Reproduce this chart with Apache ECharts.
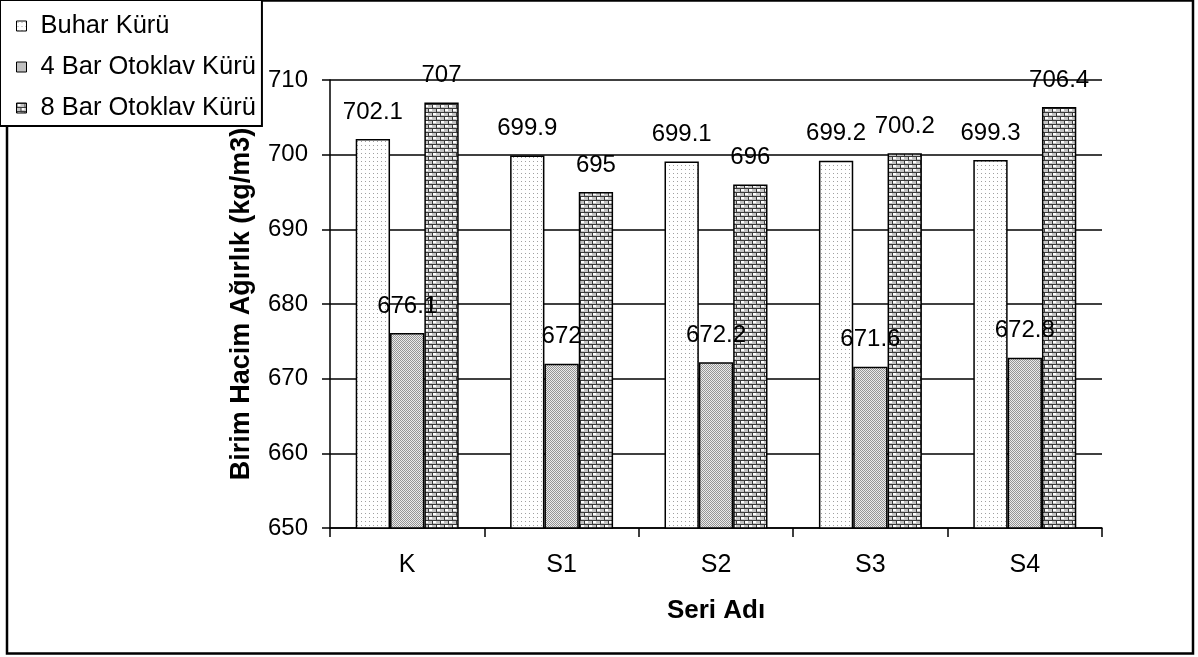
<!DOCTYPE html>
<html>
<head>
<meta charset="utf-8">
<script src="https://cdn.jsdelivr.net/npm/echarts@6/dist/echarts.min.js"></script>
<style>
  html, body { margin: 0; padding: 0; background: #fff; }
  #chart { width: 1198px; height: 657px; }
</style>
</head>
<body>
<div id="chart"></div>
<script>
// Series data
const categories = ['K', 'S1', 'S2', 'S3', 'S4'];
const buharKuru = [702.1, 699.9, 699.1, 699.2, 699.3];
const bar4Otoklav = [676.1, 672, 672.2, 671.6, 672.8];
const bar8Otoklav = [707, 695, 696, 700.2, 706.4];
const seriesNames = ['Buhar Kürü', '4 Bar Otoklav Kürü', '8 Bar Otoklav Kürü'];

const FONT = '"Liberation Sans", Arial, sans-serif';

// Fill patterns drawn on small tiles
function tile(w, h, draw) {
  const c = document.createElement('canvas');
  c.width = w; c.height = h;
  const ctx = c.getContext('2d');
  draw(ctx);
  return { image: c, repeat: 'repeat' };
}
// sparse dots
const dotPattern = tile(4, 4, ctx => {
  ctx.fillStyle = '#ffffff'; ctx.fillRect(0, 0, 4, 4);
  ctx.fillStyle = '#a0a0a0'; ctx.fillRect(1, 1, 1, 1);
});
// fine checker
const checkPattern = tile(2, 2, ctx => {
  ctx.fillStyle = '#ebebeb'; ctx.fillRect(0, 0, 2, 2);
  ctx.fillStyle = '#959595'; ctx.fillRect(0, 0, 1, 1); ctx.fillRect(1, 1, 1, 1);
});
// brick
const brickPattern = tile(8, 8, ctx => {
  ctx.fillStyle = '#c4c4c4'; ctx.fillRect(0, 0, 8, 8);
  ctx.fillStyle = '#ffffff'; ctx.fillRect(1, 1, 3, 2); ctx.fillRect(5, 5, 3, 2);
  ctx.fillStyle = '#3a3a3a';
  ctx.fillRect(0, 0, 8, 1); ctx.fillRect(0, 4, 8, 1);
  ctx.fillRect(0, 0, 1, 4); ctx.fillRect(4, 4, 1, 4);
});

const labelStyle = { show: true, position: 'top', distance: 15, color: '#000', fontSize: 24, fontFamily: FONT };
const barBorder = { borderColor: '#000', borderWidth: 1.5 };

const chart = echarts.init(document.getElementById('chart'), null, { renderer: 'canvas' });
chart.setOption({
  animation: false,
  backgroundColor: '#fff',
  textStyle: { fontFamily: FONT, color: '#000' },
  graphic: [{
    type: 'rect',
    shape: { x: 7, y: 0.5, width: 1186, height: 653 },
    style: { fill: 'none', stroke: '#000', lineWidth: 2.5 },
    z: -1
  }],
  legend: {
    orient: 'vertical',
    left: 0, top: 0,
    padding: [13, 6, 5, 16],
    itemWidth: 10, itemHeight: 10, itemGap: 15,
    icon: 'rect',
    backgroundColor: '#fff',
    borderColor: '#000', borderWidth: 2,
    textStyle: { fontSize: 25.5, color: '#000', fontFamily: FONT, padding: [0, 0, 0, 9] },
    itemStyle: { borderColor: '#000', borderWidth: 1 },
    data: seriesNames
  },
  grid: { left: 330, right: 96, top: 80, bottom: 129, containLabel: false },
  xAxis: {
    type: 'category',
    data: categories,
    name: 'Seri Adı',
    nameLocation: 'middle',
    nameGap: 70,
    nameTextStyle: { fontSize: 26, fontWeight: 'bold', color: '#000', fontFamily: FONT },
    axisLine: { lineStyle: { color: '#000', width: 1.5 } },
    axisTick: { show: true, length: 9, lineStyle: { color: '#000', width: 1.5 } },
    axisLabel: { fontSize: 25, color: '#000', margin: 25, fontFamily: FONT }
  },
  yAxis: {
    type: 'value',
    min: 650, max: 710, interval: 10,
    name: 'Birim Hacim Ağırlık (kg/m3)',
    nameLocation: 'middle',
    nameGap: 75,
    nameTextStyle: { fontSize: 27, fontWeight: 'bold', color: '#000', fontFamily: FONT },
    axisLine: { show: true, lineStyle: { color: '#000', width: 1.5 } },
    axisTick: { show: true, length: 8, lineStyle: { color: '#000', width: 1.5 } },
    axisLabel: { fontSize: 24, color: '#000', margin: 22, fontFamily: FONT },
    splitLine: { show: true, lineStyle: { color: '#000', width: 1.5 } }
  },
  series: [
    { name: seriesNames[0], type: 'bar', data: buharKuru, barGap: '0%', barCategoryGap: '33.3%',
      itemStyle: Object.assign({ color: dotPattern }, barBorder), label: labelStyle, z: 2 },
    { name: seriesNames[1], type: 'bar', data: bar4Otoklav,
      itemStyle: Object.assign({ color: checkPattern }, barBorder), label: labelStyle, z: 4 },
    { name: seriesNames[2], type: 'bar', data: bar8Otoklav,
      itemStyle: Object.assign({ color: brickPattern }, barBorder), label: labelStyle, z: 3 }
  ]
});
</script>
</body>
</html>
